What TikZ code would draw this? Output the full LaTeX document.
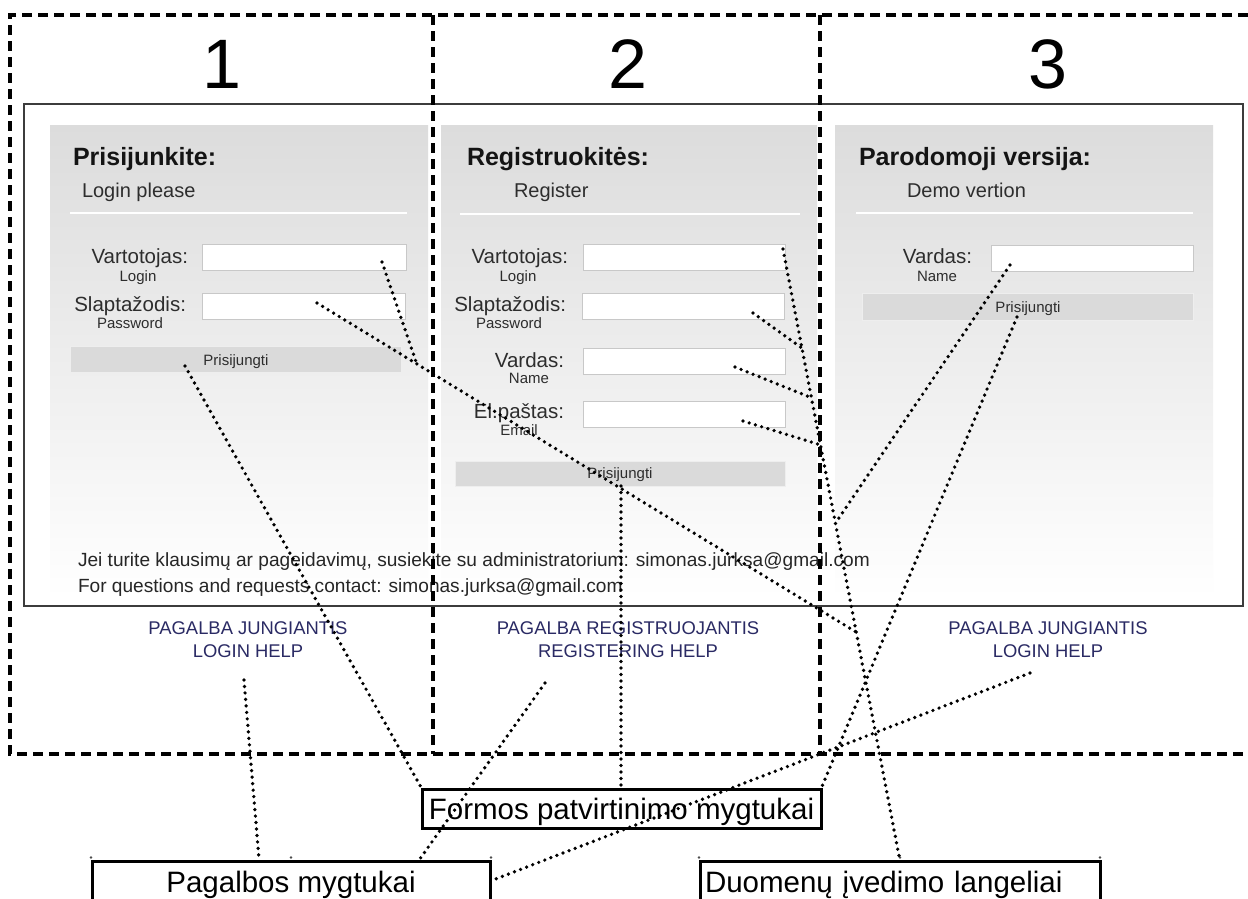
\documentclass[tikz,border=0pt]{standalone}
\usepackage{fontspec}
\setmainfont{Liberation Sans}
\usetikzlibrary{calc}

\definecolor{panelgray}{RGB}{220,220,220}
\definecolor{fieldedge}{RGB}{200,200,200}
\definecolor{btnfill}{RGB}{218,218,218}
\definecolor{btnedge}{RGB}{238,238,238}
\definecolor{helpblue}{RGB}{42,42,100}
\definecolor{uitext}{RGB}{45,45,45}
\definecolor{frameline}{RGB}{60,60,60}

\tikzset{
  plain/.style={inner sep=0pt, outer sep=0pt},
  digit/.style={plain, anchor=base, font=\fontsize{70}{80}\selectfont},
  formtitle/.style={plain, anchor=base west, font=\fontsize{25}{30}\selectfont\bfseries, text=black!92},
  formsub/.style={plain, anchor=base west, font=\fontsize{20}{24}\selectfont, text=uitext},
  fieldlabel/.style={plain, anchor=base east, font=\fontsize{20.5}{24}\selectfont, text=uitext},
  fieldhint/.style={plain, anchor=base, font=\fontsize{15}{18}\selectfont, text=uitext},
  btnlabel/.style={plain, anchor=base, font=\fontsize{15}{18}\selectfont, text=uitext},
  footer/.style={plain, anchor=base west, font=\fontsize{19.1}{22}\selectfont, text=black!85},
  helplink/.style={plain, align=center, font=\fontsize{18.4}{23}\selectfont, text=helpblue},
  field/.style={draw=fieldedge, fill=white, line width=1pt},
  btn/.style={draw=btnedge, fill=btnfill, line width=1pt},
  sep/.style={draw=white, line width=1.5pt},
  zone/.style={dash pattern=on 10pt off 6pt, line width=3.2pt},
  tag/.style={draw=black, line width=3pt, font=\fontsize{29.5}{34}\selectfont,
              inner xsep=5pt, outer sep=0pt},
  link/.style={dash pattern=on 0pt off 6.5pt, line cap=round, line width=3.7pt},
  handle/.style={fill=black!70},
}

\begin{document}
\begin{tikzpicture}[x=1pt,y=-1pt]
\path[use as bounding box] (0,0) rectangle (1248,898);
\clip (0,0) rectangle (1248,898);
\fill[white] (0,0) rectangle (1248,898);

% column numbers
\node[digit] (n1) at (222,88) {1};
\node[digit] (n2) at (628,88) {2};
\node[digit] (n3) at (1048,88) {3};

% browser window
\draw[frameline, line width=1.3pt] (24,104) rectangle (1243,606);

% form panels with vertical fade
\shade[top color=panelgray, bottom color=white] (50,125) rectangle (428,598);
\shade[top color=panelgray, bottom color=white] (441,125) rectangle (817,598);
\shade[top color=panelgray, bottom color=white] (835,125) rectangle (1213,598);

\draw[sep] (70,213) -- (407,213);
\draw[sep] (460,214) -- (800,214);
\draw[sep] (856,213) -- (1193,213);

% ---- panel 1: login
\node[formtitle] (t1) at (73,165) {Prisijunkite:};
\node[formsub] (s1) at (82,197) {Login please};
\node[fieldlabel] (l1a) at (188,263) {Vartotojas:};
\node[fieldhint] (h1a) at (138,281) {Login};
\draw[field] (202,244) rectangle (406,270);
\node[fieldlabel] (l1b) at (186,311) {Slaptažodis:};
\node[fieldhint] (h1b) at (130,328) {Password};
\draw[field] (202,293) rectangle (405,319);
\draw[btn] (70,346) rectangle (401,372);
\node[btnlabel] (b1) at (236,365) {Prisijungti};

% ---- panel 2: registration
\node[formtitle] (t2) at (467,165) {Registruokitės:};
\node[formsub] (s2) at (514,197) {Register};
\node[fieldlabel] (l2a) at (568,263) {Vartotojas:};
\node[fieldhint] (h2a) at (518,281) {Login};
\draw[field] (583,244) rectangle (785,270);
\node[fieldlabel] (l2b) at (566,311) {Slaptažodis:};
\node[fieldhint] (h2b) at (509,328) {Password};
\draw[field] (582,293) rectangle (784,319);
\node[fieldlabel] (l2c) at (564,367) {Vardas:};
\node[fieldhint] (h2c) at (529,383) {Name};
\draw[field] (583,348) rectangle (785,374);
\node[fieldlabel] (l2d) at (564,418) {El.paštas:};
\node[fieldhint] (h2d) at (519,435) {Email};
\draw[field] (583,401) rectangle (785,427);
\draw[btn] (455,461) rectangle (785,486);
\node[btnlabel] (b2) at (620,478) {Prisijungti};

% ---- panel 3: demo
\node[formtitle] (t3) at (859,165) {Parodomoji versija:};
\node[formsub] (s3) at (907,197) {Demo vertion};
\node[fieldlabel] (l3a) at (972,263) {Vardas:};
\node[fieldhint] (h3a) at (937,281) {Name};
\draw[field] (991,245) rectangle (1193,271);
\draw[btn] (862,293) rectangle (1193,320);
\node[btnlabel] (b3) at (1028,312) {Prisijungti};

% footer
\node[footer] (f1) at (78,566) {Jei turite klausimų ar pageidavimų, susiekite su administratorium: simonas.jurksa@gmail.com};
\node[footer] (f2) at (78,592) {For questions and requests contact: simonas.jurksa@gmail.com};

% help links
\node[helplink] (help1) at (248,640) {PAGALBA JUNGIANTIS\\LOGIN HELP};
\node[helplink] (help2) at (628,640) {PAGALBA REGISTRUOJANTIS\\REGISTERING HELP};
\node[helplink] (help3) at (1048,640) {PAGALBA JUNGIANTIS\\LOGIN HELP};

% dashed column zones
\draw[zone] (1248,15) -- (10,15) -- (10,754) -- (1248,754);
\draw[zone] (433,15) -- (433,754);
\draw[zone] (820,15) -- (820,754);

% caption boxes
\node[tag, minimum width=399, text height=28, text depth=7, inner ysep=2pt, anchor=north west]
  (formos) at (422,789) {Formos patvirtinimo mygtukai};
\node[tag, minimum width=398, text height=22, text depth=30, inner ysep=9pt, anchor=north west]
  (pagalbos) at (92,861) {Pagalbos mygtukai};
\node[tag, text width=390, align=left, text height=22, text depth=30, inner ysep=9pt, anchor=north west]
  (duomenu) at (700,861) {Duomenų įvedimo langeliai};

% selection handles above the lower captions
\foreach \hx in {91,291,491,699,900,1100}
  \fill[handle] (\hx,857.5) circle (1.3);

% connector end points
\coordinate (c1btn) at (185,366);
\coordinate (c2btn) at (621,486);
\coordinate (c3btn) at (1017,317);
\coordinate (hp1) at (244,680);
\coordinate (hp2) at (545,683);
\coordinate (hp3) at (1030,673);
\coordinate (u1) at (382,262);
\coordinate (pw1) at (317,303);
\coordinate (u2) at (783,249);
\coordinate (pw2) at (753,313);
\coordinate (nm2) at (735,367);
\coordinate (em2) at (743,421);
\coordinate (nm3) at (1010,265);

% junctions on the main input trunk
\coordinate (jpw2) at ($(u2)!0.162!(duomenu.north)$);
\coordinate (jnm2) at ($(u2)!0.243!(duomenu.north)$);
\coordinate (jem2) at ($(u2)!0.320!(duomenu.north)$);
\coordinate (jnm3) at ($(u2)!0.448!(duomenu.north)$);
\coordinate (jpw1) at ($(u2)!0.626!(duomenu.north)$);
\coordinate (ju1) at ($(pw1)!0.185!(jpw1)$);

% submit buttons -> caption
\draw[link] (c1btn) -- (formos.north west);
\draw[link] (c2btn) -- (formos.north -| c2btn);
\draw[link] (c3btn) -- (formos.north east);

% help links -> caption
\draw[link] (hp1) -- ($(pagalbos.north west)!0.42!(pagalbos.north east)$);
\draw[link] (hp2) -- ($(pagalbos.north west)!0.82!(pagalbos.north east)$);
\draw[link] (hp3) -- ($(pagalbos.north east)+(3,19)$);

% input fields -> caption
\draw[link] (u2) -- (duomenu.north);
\draw[link] (pw2) -- (jpw2);
\draw[link] (nm2) -- (jnm2);
\draw[link] (em2) -- (jem2);
\draw[link] (nm3) -- (jnm3);
\draw[link] (pw1) -- (jpw1);
\draw[link] (u1) -- (ju1);
\end{tikzpicture}
\end{document}
